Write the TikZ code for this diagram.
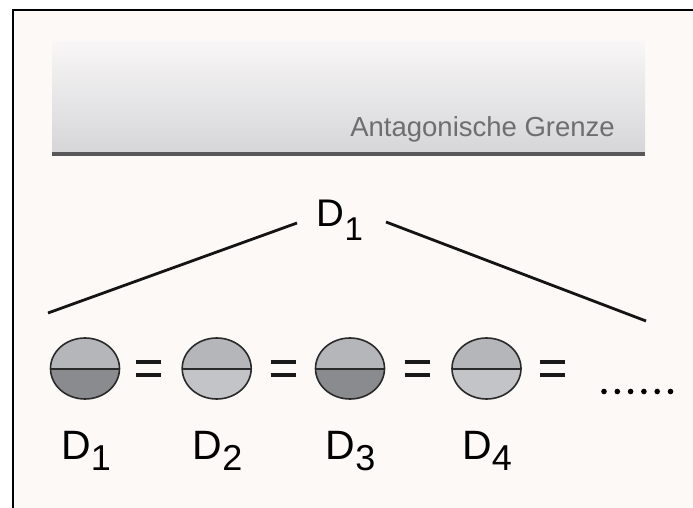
\documentclass[tikz,border=0pt]{standalone}
\usepackage{fontspec}
\setmainfont{Liberation Sans}
\usetikzlibrary{shapes.geometric}
\definecolor{pagebg}{HTML}{FCF9F7}
\definecolor{bandtop}{HTML}{F8F6F6}
\definecolor{bandbot}{HTML}{D6D6D9}
\definecolor{bandline}{HTML}{58585B}
\definecolor{labgray}{HTML}{6E6E71}
\definecolor{discup}{HTML}{B4B6B9}
\definecolor{discdark}{HTML}{8A8B8E}
\definecolor{disclight}{HTML}{C2C4C7}
\definecolor{discedge}{HTML}{2A2A2A}
\tikzset{
  dlabel/.style={anchor=base, inner sep=0pt, text=black},
  eqbar/.style={line width=3.8bp, black!90},
  treeline/.style={line width=2.8bp, black!92},
  discoutline/.style={draw=discedge, line width=1.6bp},
}
\newcommand{\DLab}[1]{{\fontsize{41bp}{44bp}\selectfont D\raisebox{-11bp}{\fontsize{36bp}{38bp}\selectfont #1}}}
\newcommand{\DTop}[1]{{\fontsize{38.5bp}{42bp}\selectfont D\raisebox{-14bp}{\fontsize{33bp}{36bp}\selectfont #1}}}
\newcommand{\disc}[3]{%
  \begin{scope}
    \clip (#1,368.5) ellipse [x radius=34.5, y radius=30.5];
    \fill[discup] (#1-40,330) rectangle (#1+40,368.5);
    \fill[#3] (#1-40,368.5) rectangle (#1+40,405);
  \end{scope}
  \draw[discedge, line width=2bp] (#1-34.5,368.5) -- (#1+34.5,368.5);
  \node[discoutline, ellipse, minimum width=69bp, minimum height=61bp, inner sep=0pt] (#2) at (#1,368.5) {};
}
\newcommand{\eqsign}[2]{%
  \coordinate (#2) at (#1,368.5);
  \draw[eqbar] ([xshift=-12.5bp,yshift=-6.5bp]#2) -- ([xshift=12.5bp,yshift=-6.5bp]#2);
  \draw[eqbar] ([xshift=-12.5bp,yshift=6.5bp]#2) -- ([xshift=12.5bp,yshift=6.5bp]#2);
}
\begin{document}
\begin{tikzpicture}[x=1bp,y=-1bp]
  \useasboundingbox (0,0) rectangle (693,508);
  \fill[white] (0,0) rectangle (693,508);
  \fill[pagebg] (12.5,10.5) rectangle (693,508);
  \draw[black, line width=2bp] (12.5,508) -- (12.5,10.5) -- (693,10.5);
  % band
  \shade[top color=bandtop, bottom color=bandbot] (52,42) rectangle (645,152);
  \draw[bandline, line width=4bp] (52,153.7) -- (645,153.7);
  \node[anchor=base east, inner sep=0pt, text=labgray, font=\fontsize{27.5bp}{30bp}\selectfont] (grenze) at (615,136.7) {Antagonische Grenze};
  % top label and lines
  \node[dlabel] (top) at (340,226.7) {\DTop{1}};
  \coordinate (la) at (48,313);
  \coordinate (lt) at (297,223);
  \coordinate (rt) at (386,222);
  \coordinate (rb) at (646,321);
  \draw[treeline] (la) -- (lt);
  \draw[treeline] (rt) -- (rb);
  % discs
  \disc{85}{d1}{discdark}
  \disc{216.7}{d2}{disclight}
  \disc{350}{d3}{discdark}
  \disc{486.5}{d4}{disclight}
  % equals
  \eqsign{148}{e1}
  \eqsign{283}{e2}
  \eqsign{417}{e3}
  \eqsign{552}{e4}
  % dots
  \foreach \i in {0,...,5} {
    \fill[black] (604+13.3*\i,391.5) circle [radius=2.8];
  }
  % bottom labels
  \node[dlabel] (l1) at (86,459) {\DLab{1}};
  \node[dlabel] (l2) at (217.5,459) {\DLab{2}};
  \node[dlabel] (l3) at (350.5,459) {\DLab{3}};
  \node[dlabel] (l4) at (487,459) {\DLab{4}};
\end{tikzpicture}
\end{document}
